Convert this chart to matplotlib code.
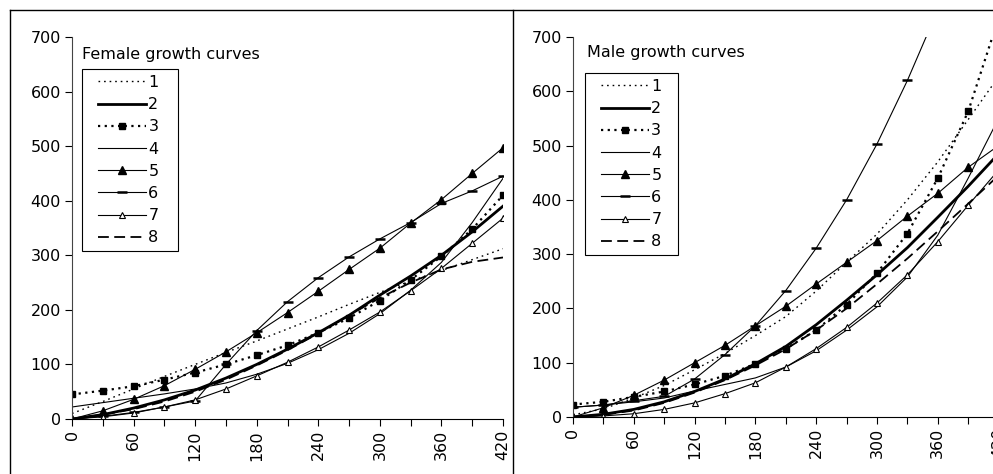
import matplotlib
matplotlib.use('Agg')
import matplotlib.pyplot as plt
from matplotlib.lines import Line2D
from matplotlib.patches import Rectangle

plt.rcParams['font.family'] = ['DejaVu Sans']
plt.rcParams['font.size'] = 11.5

# age in days, one point every 30
days = [0, 30, 60, 90, 120, 150, 180, 210, 240, 270, 300, 330, 360, 390, 420]
tick_labels = ['0', '', '60', '', '120', '', '180', '', '240', '', '300', '', '360', '', '420']
series_names = ['1', '2', '3', '4', '5', '6', '7', '8']

# female curves
female_1 = [10, 32, 55, 78, 100, 122, 143, 165, 187, 210, 232, 253, 272, 292, 312]
female_2 = [0, 8, 20, 35, 53, 75, 100, 128, 158, 190, 227, 262, 300, 343, 390]
female_3 = [45, 52, 60, 72, 85, 100, 117, 135, 158, 185, 217, 255, 298, 348, 410]
female_4 = [22, 30, 38, 46, 55, 66, 82, 102, 127, 157, 193, 236, 287, 360, 441]
female_5 = [0, 15, 36, 61, 91, 123, 158, 195, 234, 274, 313, 359, 402, 450, 497]
female_6 = [0, 5, 12, 22, 33, 100, 162, 215, 259, 297, 330, 360, 395, 418, 445]
female_7 = [0, 4, 11, 22, 35, 55, 79, 104, 132, 163, 196, 235, 276, 322, 368]
female_8 = [0, 8, 18, 32, 50, 72, 98, 126, 157, 190, 222, 250, 274, 288, 296]

# male curves
male_1 = [4, 15, 35, 58, 87, 117, 150, 185, 232, 285, 337, 400, 470, 548, 627]
male_2 = [0, 5, 14, 28, 47, 70, 98, 130, 170, 215, 262, 312, 368, 425, 485]
male_3 = [23, 28, 37, 47, 60, 76, 98, 126, 160, 207, 265, 338, 440, 563, 735]
male_4 = [18, 22, 28, 35, 48, 60, 72, 92, 122, 160, 203, 258, 335, 440, 550]
male_5 = [0, 17, 40, 68, 100, 132, 168, 204, 245, 285, 325, 370, 412, 460, 500]
male_6 = [18, 22, 30, 38, 70, 115, 168, 233, 311, 400, 503, 620, 750, 900, 1060]
male_7 = [0, 2, 6, 14, 26, 43, 63, 92, 126, 165, 210, 262, 323, 390, 455]
male_8 = [0, 4, 12, 26, 45, 68, 95, 125, 160, 200, 245, 292, 342, 393, 445]

styles = [
    dict(color='black', lw=1.0, dashes=(1.2, 2.8)),
    dict(color='black', lw=2.0, ls='-'),
    dict(color='black', lw=1.6, dashes=(1, 2), marker='s', ms=5),
    dict(color='black', lw=0.8, ls='-'),
    dict(color='black', lw=0.8, ls='-', marker='^', ms=6),
    dict(color='black', lw=0.8, ls='-', marker='_', ms=7, mew=1.8),
    dict(color='black', lw=0.8, ls='-', marker='^', ms=5, mfc='white', mew=0.8),
    dict(color='black', lw=1.3, dashes=(6, 3)),
]

fig = plt.figure(figsize=(9.93, 4.74), dpi=100)
W, H = 993.0, 474.0


def fx(px):
    return px / W


def fy(py):
    return 1 - py / H


def draw_panel(ax, curves, title, title_xy, box):
    for vals, name, st in zip(curves, series_names, styles):
        ax.plot(days, vals, label=name, **st)
    ax.set_xlim(0, 420)
    ax.set_ylim(0, 700)
    ax.set_xticks(days)
    ax.set_xticklabels(tick_labels, rotation=90)
    ax.set_yticks(range(0, 701, 100))
    ax.spines['top'].set_visible(False)
    ax.spines['right'].set_visible(False)
    ax.spines['left'].set_color('#444444')
    ax.tick_params(direction='out', length=5, width=0.8, pad=3)
    ax.patch.set_alpha(0)
    fig.text(fx(title_xy[0]), fy(title_xy[1]), title, ha='left', va='center')
    # legend frame drawn separately so it can be sized like the original
    x0, y0, x1, y1 = box
    fig.add_artist(Rectangle((fx(x0), fy(y1)), (x1 - x0) / W, (y1 - y0) / H,
                             transform=fig.transFigure, fill=False,
                             edgecolor='black', lw=0.8))
    ax.legend(loc='upper left', bbox_to_anchor=(fx(x0 + 16), fy(y0 + 6)),
              bbox_transform=fig.transFigure, frameon=False,
              borderaxespad=0, borderpad=0, handlelength=3.0,
              handletextpad=0.15, labelspacing=0.45)


ax1 = fig.add_axes([fx(72), fy(419), 431 / W, 382 / H])
draw_panel(ax1, [female_1, female_2, female_3, female_4,
                 female_5, female_6, female_7, female_8],
           'Female growth curves', (82, 55), (82, 69, 178, 251))

ax2 = fig.add_axes([fx(573), fy(417), 425.6 / W, 380 / H])
draw_panel(ax2, [male_1, male_2, male_3, male_4,
                 male_5, male_6, male_7, male_8],
           'Male growth curves', (587, 53), (585, 73, 678, 255))

# frames around the two charts
for xs, ys in [([10, 10], [10, 480]), ([513, 513], [10, 480]), ([10, 1000], [10, 10])]:
    fig.add_artist(Line2D([fx(x) for x in xs], [fy(y) for y in ys],
                          transform=fig.transFigure, color='black', lw=1.0))

fig.savefig('out.png', dpi=100)
